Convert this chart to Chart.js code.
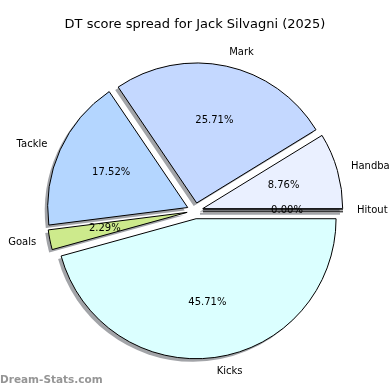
<!DOCTYPE html>
<html>
<head>
<meta charset="utf-8">
<script src="https://cdn.jsdelivr.net/npm/chart.js@4.4.0/dist/chart.umd.min.js"></script>
<style>
  html, body { margin: 0; padding: 0; background: #fff; }
</style>
</head>
<body>
<canvas id="myChart" width="390" height="390"></canvas>
<script>
// slices listed clockwise from 3 o'clock
const categories = ['Kicks', 'Goals', 'Tackle', 'Mark', 'Handball', 'Hitout'];
const dtPoints = [240, 12, 92, 135, 46, 0];
const sliceColors = ['#dbffff', '#cdea8c', '#b4d6ff', '#c4d8ff', '#eaf0ff', '#eef2ff'];
const chartTitle = 'DT score spread for Jack Silvagni (2025)';
const watermark = 'Dream-Stats.com';

const RADIUS = 140;
const EXPLODE = 8;
const total = dtPoints.reduce((a, b) => a + b, 0);

const pieExtras = {
    id: 'pieExtras',
    afterDatasetsUpdate(chart) {
        // push every wedge out from the centre a bit
        chart.getDatasetMeta(0).data.forEach(arc => {
            const mid = (arc.startAngle + arc.endAngle) / 2;
            arc.x += EXPLODE * Math.cos(mid);
            arc.y += EXPLODE * Math.sin(mid);
        });
    },
    beforeDatasetsDraw(chart) {
        const ctx = chart.ctx;
        ctx.save();
        ctx.fillStyle = '#a2a4a8';
        ctx.strokeStyle = '#a2a4a8';
        ctx.lineWidth = 2;
        chart.getDatasetMeta(0).data.forEach(arc => {
            const x = arc.x - 3, y = arc.y + 3;
            ctx.beginPath();
            if (arc.endAngle - arc.startAngle > 0) {
                ctx.moveTo(x, y);
                ctx.arc(x, y, arc.outerRadius, arc.startAngle, arc.endAngle);
                ctx.closePath();
                ctx.fill();
            } else {
                ctx.moveTo(x, y);
                ctx.lineTo(x + arc.outerRadius * Math.cos(arc.startAngle), y + arc.outerRadius * Math.sin(arc.startAngle));
                ctx.stroke();
            }
        });
        ctx.restore();
    },
    afterDatasetsDraw(chart) {
        const ctx = chart.ctx;
        const arcs = chart.getDatasetMeta(0).data;
        ctx.save();
        arcs.forEach((arc, i) => {
            const mid = (arc.startAngle + arc.endAngle) / 2;
            const c = Math.cos(mid), s = Math.sin(mid);
            if (arc.endAngle - arc.startAngle <= 0) {
                // zero slice is just an edge
                ctx.strokeStyle = '#000';
                ctx.lineWidth = 1;
                ctx.beginPath();
                ctx.moveTo(arc.x, arc.y - 1);
                ctx.lineTo(arc.x + arc.outerRadius * c, arc.y - 1 + arc.outerRadius * s);
                ctx.moveTo(arc.x, arc.y + 1);
                ctx.lineTo(arc.x + arc.outerRadius * c, arc.y + 1 + arc.outerRadius * s);
                ctx.stroke();
            }
            ctx.fillStyle = '#000';
            ctx.font = '10px "DejaVu Sans"';
            ctx.textBaseline = 'middle';
            ctx.textAlign = c > 0 ? 'left' : 'right';
            ctx.fillText(categories[i], arc.x + 1.1 * arc.outerRadius * c, arc.y + 1.1 * arc.outerRadius * s);
            ctx.textAlign = 'center';
            const pct = (dtPoints[i] / total * 100).toFixed(2) + '%';
            ctx.fillText(pct, arc.x + 0.6 * arc.outerRadius * c, arc.y + 0.6 * arc.outerRadius * s);
        });
        ctx.fillStyle = 'rgba(130,130,130,0.85)';
        ctx.font = 'bold 10.5px "DejaVu Sans"';
        ctx.textAlign = 'left';
        ctx.textBaseline = 'alphabetic';
        ctx.fillText(watermark, 0, 383);
        ctx.restore();
    }
};

const data = {
    labels: categories,
    datasets: [{
        data: dtPoints,
        backgroundColor: sliceColors,
        borderColor: '#000',
        borderWidth: 1,
        borderJoinStyle: 'miter',
        radius: RADIUS,
        clip: false
    }]
};

const config = {
    type: 'pie',
    data: data,
    options: {
        responsive: false,
        devicePixelRatio: 1,
        animation: false,
        rotation: 90,
        layout: { padding: { top: 0, bottom: 1, left: 0, right: 0 } },
        plugins: {
            legend: { display: false },
            tooltip: { enabled: false },
            title: {
                display: true,
                text: chartTitle,
                color: '#000',
                font: { family: 'DejaVu Sans', size: 13, weight: 'normal' },
                padding: { top: 17, bottom: 0 }
            }
        }
    },
    plugins: [pieExtras]
};

const myChart = new Chart(document.getElementById('myChart'), config);
</script>
</body>
</html>
